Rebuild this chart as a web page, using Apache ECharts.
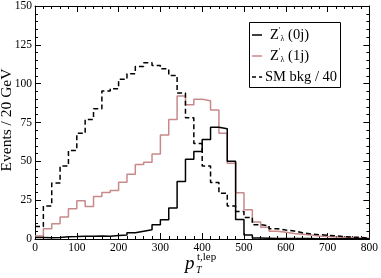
<!DOCTYPE html>
<html><head><meta charset="utf-8">
<script src="https://cdn.jsdelivr.net/npm/echarts@6/dist/echarts.min.js"></script>
<style>html,body{margin:0;padding:0;background:#fff}#c{width:381px;height:278px}</style>
</head><body><div id="c"></div>
<script>
// bins of 20 GeV from 0 to 800
const binWidth = 20;
const xMax = 800;
const xTicks = [0,100,200,300,400,500,600,700,800];
const yTicks = [0,25,50,75,100,125,150];

const zp0j = [1.0,0.8,1.0,1.5,1.6,1.8,1.7,1.9,1.7,2.3,2.6,4.0,5.0,6.0,9.2,12.4,20,37,51.3,56.4,
              64,72,71,50,12.6,2.5,0.6,0.5,0.4,0.4,0.3,0.3,0.3,0.2,0.2,0.2,0.2,0.1,0.1,0.1];
const zp1j = [2,6.6,9.8,14.1,19.4,24.7,20.9,27.3,29.9,31.2,36.5,41.7,48,49.4,54.7,67,77,92,86.5,90,
              89,83,68,48.7,29.7,18.8,11,7.5,5,4.3,3.5,3,2.5,2,1.6,1.3,1.1,0.9,0.7,0.5];
const smBkg = [8,21.3,36,47,57,68,77,83.8,95.3,96.8,102.8,106.4,111,113.4,111.7,109.6,105.3,94,78,61.5,
              47,36.3,29.5,21.3,17.7,13.9,9.2,8.5,6.6,5.8,5.2,4,3.3,2.8,2.4,2,1.6,1.2,1,0.6];

const legendLabels = ['{m|Z}{sp|′}{sb|λ}{m| (0j)}', '{m|Z}{sp|′}{sb|λ}{m| (1j)}', '{m|SM bkg / 40}'];
const RED = '#c8898a';

function steps(vals){
  const d = vals.map((v,i)=>[i*binWidth, v]);
  d.push([xMax, vals[vals.length-1]]);
  return d;
}

const serif = 'Liberation Serif';
const chart = echarts.init(document.getElementById('c'), null, {renderer:'canvas'});

function axisCommon(show){
  return {
    axisLine:{show:true, onZero:false, lineStyle:{color:'#000', width:1}},
    axisTick:{show:true, inside:true, length:6, lineStyle:{color:'#000'}},
    minorTick:{show:true, splitNumber:5, length:3, lineStyle:{color:'#000'}},
    splitLine:{show:false},
    axisLabel:{show:show, fontFamily:serif, fontSize:11.5, color:'#000', margin:3}
  };
}

const richStyle = {
  m:{fontFamily:serif, fontSize:14.5, fill:'#000', color:'#000', lineHeight:16},
  sp:{fontFamily:serif, fontSize:8, fill:'#000', color:'#000', lineHeight:10, verticalAlign:'top'},
  sb:{fontFamily:serif, fontSize:8, fill:'#000', color:'#000', lineHeight:8, verticalAlign:'bottom'}
};
const rowY = [35, 56, 77];
const lineStyles = [
  {stroke:'#000', lineWidth:1.5},
  {stroke:RED, lineWidth:1.5},
  {stroke:'#000', lineWidth:1.5, lineDash:[4,3]}
];
const textX = [270, 270, 265];

const legendGraphics = [{type:'rect', shape:{x:249.5, y:22.5, width:91, height:65},
  style:{fill:'#fff', stroke:'#000', lineWidth:1}, z:100}];
rowY.forEach((y,i)=>{
  legendGraphics.push({type:'line', shape:{x1:252, y1:y, x2:262, y2:y}, style:lineStyles[i], z:101});
  legendGraphics.push({type:'text', x:textX[i], y:y, z:101,
    style:{text:legendLabels[i], rich:richStyle, fill:'#000', verticalAlign:'middle', align:'left'}});
});

chart.setOption({
  animation:false,
  grid:{left:35, right:10, top:5, bottom:39},
  xAxis:[
    Object.assign({type:'value', min:0, max:xMax, interval:100, position:'bottom'}, axisCommon(true)),
    Object.assign({type:'value', min:0, max:xMax, interval:100, position:'top'}, axisCommon(false))
  ],
  yAxis:[
    Object.assign({type:'value', min:0, max:150, interval:25, position:'left'}, axisCommon(true)),
    Object.assign({type:'value', min:0, max:150, interval:25, position:'right'}, axisCommon(false))
  ],
  graphic:[
    {type:'text', rotation:Math.PI/2, x:7, y:120,
     style:{text:'Events / 20 GeV', font:'15.5px "Liberation Serif"', fill:'#000', align:'center', verticalAlign:'middle'}},
    {type:'text', x:185, y:254, style:{text:'p', font:'italic 19px "Liberation Serif"', fill:'#000'}},
    {type:'text', x:196, y:265, style:{text:'T', font:'italic 10px "Liberation Serif"', fill:'#000'}},
    {type:'text', x:197, y:252, style:{text:'t,lep', font:'11px "Liberation Serif"', fill:'#000'}}
  ].concat(legendGraphics),
  series:[
    {name:'Z1j', type:'line', step:'end', symbol:'none', data:steps(zp1j),
     lineStyle:{color:RED, width:1.5}, itemStyle:{color:RED}, z:2},
    {name:'SM', type:'line', step:'end', symbol:'none', data:steps(smBkg),
     lineStyle:{color:'#000', width:1.5, type:[5,3]}, itemStyle:{color:'#000'}, z:3},
    {name:'Z0j', type:'line', step:'end', symbol:'none', data:steps(zp0j),
     lineStyle:{color:'#000', width:1.5}, itemStyle:{color:'#000'}, z:4}
  ]
});
</script>
</body></html>
